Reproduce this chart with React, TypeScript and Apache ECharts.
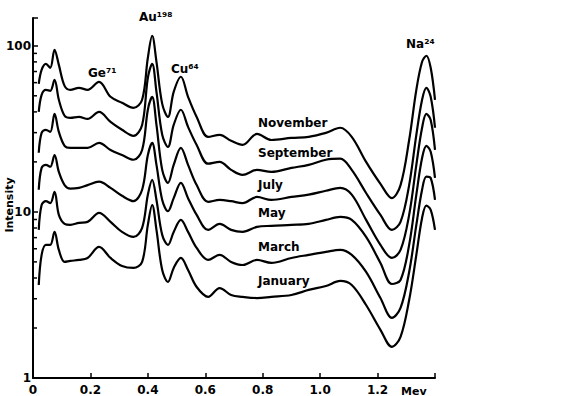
import React, { useEffect, useRef } from "react";
import * as echarts from "echarts";

// Energy (MeV) sample points
const energy = [0.02, 0.03, 0.045, 0.06, 0.075, 0.09, 0.11, 0.13, 0.16, 0.19, 0.23, 0.27, 0.31, 0.35, 0.38, 0.40, 0.415, 0.43, 0.45, 0.47, 0.49, 0.515, 0.54, 0.57, 0.61, 0.65, 0.69, 0.73, 0.78, 0.83, 0.90, 0.96, 1.02, 1.07, 1.11, 1.16, 1.21, 1.25, 1.28, 1.31, 1.335, 1.355, 1.37, 1.385, 1.40];

const november = [59.0, 71.7, 77.9, 73.7, 94.6, 76.8, 57.4, 54.3, 55.8, 54.3, 60.7, 49.3, 45.4, 42.3, 47.3, 84.7, 114.9, 80.1, 44.7, 37.3, 52.8, 65.1, 49.3, 37.3, 28.3, 29.1, 26.8, 25.3, 29.5, 27.1, 27.9, 28.3, 29.9, 32.1, 28.3, 20.0, 14.75, 12.1, 14.5, 27.1, 54.3, 80.1, 87.1, 73.7, 47.3];
const september = [40.0, 50.7, 54.3, 53.6, 62.4, 47.3, 37.9, 36.8, 37.3, 36.3, 40.0, 34.8, 31.2, 28.7, 33.4, 64.2, 77.9, 52.8, 29.1, 24.6, 33.4, 41.2, 32.5, 25.3, 19.5, 20.0, 17.9, 16.7, 17.9, 17.4, 18.4, 19.2, 20.6, 20.9, 17.9, 13.0, 9.59, 7.79, 8.71, 14.5, 29.1, 47.3, 55.8, 49.3, 32.1];
const july = [22.7, 29.9, 31.2, 30.3, 38.9, 30.3, 25.0, 24.3, 24.3, 24.3, 26.0, 23.6, 22.0, 20.6, 23.6, 41.2, 49.3, 33.4, 17.9, 14.95, 19.2, 24.3, 19.2, 14.5, 11.5, 11.8, 11.6, 11.3, 12.3, 11.8, 12.3, 12.7, 13.4, 13.95, 12.7, 8.95, 6.33, 5.28, 5.90, 9.59, 19.2, 32.1, 38.9, 35.8, 23.6];
const may = [13.6, 18.4, 19.2, 18.7, 22.0, 17.4, 14.5, 13.8, 13.95, 14.5, 15.2, 13.95, 12.5, 11.6, 13.6, 22.0, 26.0, 19.2, 11.8, 10.1, 12.1, 14.95, 12.1, 9.59, 7.79, 8.47, 7.79, 7.58, 8.12, 8.24, 8.35, 8.47, 8.95, 9.33, 8.95, 7.07, 4.93, 3.68, 3.89, 6.33, 12.7, 21.1, 25.0, 23.0, 16.0];
const march = [7.79, 11.0, 11.6, 11.3, 13.2, 9.59, 8.47, 8.35, 8.59, 8.71, 9.86, 8.71, 7.58, 7.07, 8.01, 12.7, 15.6, 11.8, 7.27, 6.33, 7.58, 8.95, 7.58, 6.07, 5.14, 5.51, 5.00, 4.79, 5.14, 4.93, 5.28, 5.51, 5.74, 5.90, 5.51, 4.35, 3.03, 2.30, 2.64, 4.35, 8.35, 13.6, 16.3, 16.0, 11.8];
const january = [3.63, 5.51, 6.33, 6.33, 7.58, 5.90, 5.00, 5.07, 5.14, 5.28, 6.15, 5.28, 4.73, 4.60, 5.00, 8.35, 11.0, 7.79, 4.47, 3.79, 4.60, 5.28, 4.47, 3.53, 3.08, 3.48, 3.16, 3.08, 3.03, 3.08, 3.16, 3.39, 3.58, 3.84, 3.63, 2.75, 1.95, 1.54, 1.77, 2.95, 5.51, 9.20, 10.9, 10.3, 7.79];

const seriesNames = ["November", "September", "July", "May", "March", "January"];
const seriesValues = [november, september, july, may, march, january];

const xTickLabels = ["0", "0.2", "0.4", "0.6", "0.8", "1.0", "1.2"];
const yTickLabels = ["1", "10", "100"];
const minorTickValues = [2, 3, 4, 5, 6, 7, 8, 9, 20, 30, 40, 50, 60, 70, 80, 90];

const FONT = "DejaVu Sans";

export default function App() {
  const ref = useRef<HTMLDivElement>(null);

  useEffect(() => {
    if (!ref.current) return;
    const chart = echarts.init(ref.current, undefined, { renderer: "svg" });

    const lineSeries = seriesNames.map((name, k) => ({
      name,
      type: "line",
      data: energy.map((x, i) => [x, seriesValues[k][i]]),
      showSymbol: false,
      smooth: 0.35,
      lineStyle: { color: "#000", width: 2.2 },
      z: 3,
    }));

    const monthLabelPos: Record<string, number> = {
      November: 123,
      September: 153,
      July: 185,
      May: 213,
      March: 247,
      January: 281,
    };

    const txt = (text: string, x: number, y: number, size = 12, extra: any = {}) => ({
      type: "text",
      x,
      y,
      style: {
        text,
        fill: "#000",
        font: `bold ${size}px '${FONT}'`,
        textAlign: "left",
        textVerticalAlign: "middle",
      },
      ...extra,
    });

    chart.setOption({
      animation: false,
      backgroundColor: "#fff",
      grid: { left: 33, right: 130, top: 18, bottom: 18 },
      xAxis: {
        type: "value",
        min: 0,
        max: 1.4,
        interval: 0.2,
        axisLine: { show: true, lineStyle: { color: "#000", width: 2 } },
        axisTick: { show: true, inside: true, length: 5, lineStyle: { color: "#000", width: 1.5 } },
        splitLine: { show: false },
        axisLabel: {
          color: "#000",
          fontFamily: FONT,
          fontWeight: "bold",
          fontSize: 12,
          margin: 6,
          formatter: (v: number) => {
            const idx = Math.round(v / 0.2);
            return idx < xTickLabels.length ? xTickLabels[idx] : "";
          },
        },
      },
      yAxis: {
        type: "log",
        logBase: 10,
        min: 1,
        max: 147,
        axisLine: { show: true, lineStyle: { color: "#000", width: 2 } },
        axisTick: { show: true, inside: true, length: 5, lineStyle: { color: "#000", width: 1.5 } },
        splitLine: { show: false },
        axisLabel: {
          color: "#000",
          fontFamily: FONT,
          fontWeight: "bold",
          fontSize: 12,
          margin: 2,
          formatter: (v: number) => {
            const s = String(Math.round(v));
            return yTickLabels.includes(s) && Math.abs(v - Number(s)) < 1e-6 ? s : "";
          },
        },
      },
      series: [
        ...lineSeries,
        {
          type: "custom",
          data: minorTickValues.map((v) => [0, v]),
          renderItem: (_params: any, api: any) => {
            const p = api.coord([0, api.value(1)]);
            return {
              type: "line",
              shape: { x1: p[0], y1: p[1], x2: p[0] + 4, y2: p[1] },
              style: { stroke: "#000", lineWidth: 1.5 },
            };
          },
          z: 4,
          silent: true,
        },
      ],
      graphic: [
        txt("Intensity", 9, 205, 11, { rotation: Math.PI / 2, style: { text: "Intensity", fill: "#000", font: `bold 11px '${FONT}'`, textAlign: "center", textVerticalAlign: "middle" } }),
        ...seriesNames.map((n) => txt(n, 258, monthLabelPos[n], 12)),
        txt("Ge\u2077\u00b9", 88, 73, 12),
        txt("Au\u00b9\u2079\u2078", 139, 17, 12),
        txt("Cu\u2076\u2074", 171, 69, 12),
        txt("Na\u00b2\u2074", 406, 44, 12),
        txt("Mev", 401, 391, 11),
      ],
    });

    return () => chart.dispose();
  }, []);

  return (
    <div
      ref={ref}
      style={{ position: "fixed", left: 0, top: 0, width: 565, height: 396, background: "#fff" }}
    />
  );
}
